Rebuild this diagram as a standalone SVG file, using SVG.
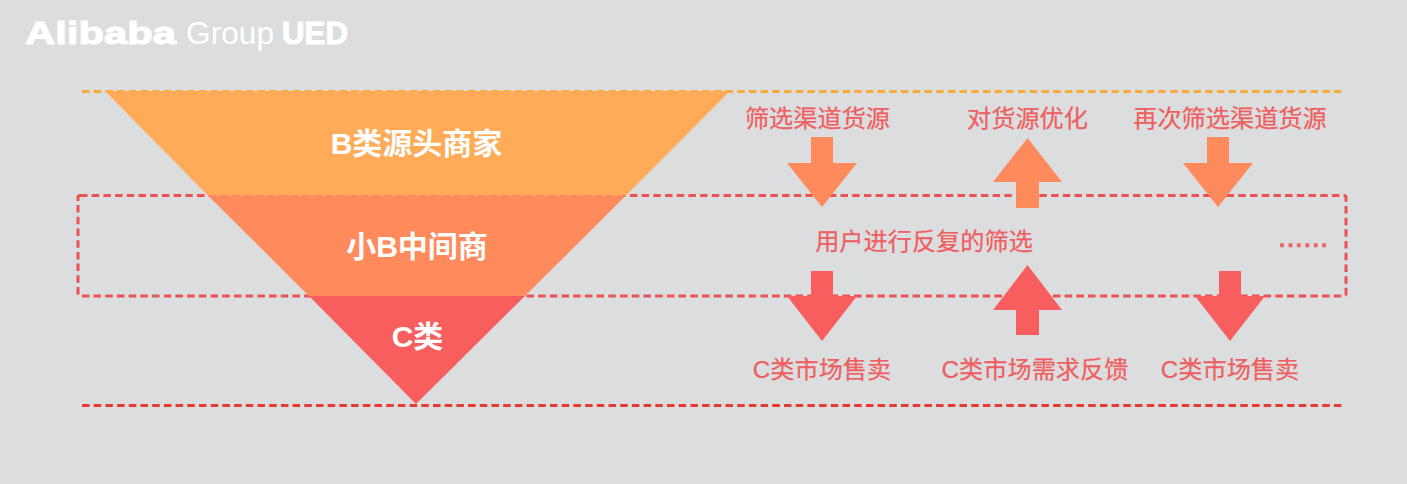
<svg xmlns="http://www.w3.org/2000/svg" width="1407" height="484" viewBox="0 0 1407 484">
<style>
.l{font-family:"Liberation Sans","Noto Sans CJK SC",sans-serif;font-size:24.200px;fill:#EE5F5F;stroke:#EE5F5F;stroke-width:.25;text-anchor:middle}
.n{font-family:"Liberation Sans","Noto Sans CJK SC",sans-serif;font-size:30px;font-weight:700;fill:#fff;text-anchor:middle}
.logo{font-family:"Liberation Sans",sans-serif;fill:#fff}
.h{stroke:#fff;stroke-width:1;font-weight:700;font-size:31px}
.d{fill:none;stroke-width:3;stroke-dasharray:7.500 4.200}
.o{fill:#FF8A5C}.r{fill:#F85E5E}
</style>
<rect width="1407" height="484" fill="#DCDDDF"/>
<g id="logo">
<text class="logo h" x="25" y="43.500" textLength="151" lengthAdjust="spacingAndGlyphs">Alibaba</text>
<text class="logo" x="186" y="43.500" font-size="32" textLength="88" lengthAdjust="spacingAndGlyphs">Group</text>
<text class="logo h" x="282" y="43.500" textLength="66" lengthAdjust="spacingAndGlyphs">UED</text>
</g>
<g id="guides">
<line class="d" x1="82" y1="91.500" x2="1343" y2="91.500" stroke="#F9AB3A"/>
<line class="d" x1="82" y1="405.500" x2="1343" y2="405.500" stroke="#E83A30"/>
<rect class="d" x="78" y="195.500" width="1268" height="100.500" rx="2" stroke="#EC5252"/>
</g>
<g id="funnel">
<g id="node-b"><polygon points="105,91 730,91 626,195.500 208,195.500" fill="#FFAB57"/><text class="n" x="416.500" y="153.500">B类源头商家</text></g>
<g id="node-mid"><polygon points="208,195.500 626,195.500 525,296 309,296" fill="#FF8A5C"/><text class="n" x="417" y="256.500">小B中间商</text></g>
<g id="node-c"><polygon points="309,296 525,296 416,404" fill="#F85E5E"/><text class="n" x="417.500" y="346.500">C类</text></g>
</g>
<g id="connectors">
<polygon class="o" points="811,137 833,137 833,163 857,163 822,207 787,163 811,163"/>
<polygon class="o" points="1027.500,138 1062,182 1039,182 1039,208 1016,208 1016,182 993,182"/>
<polygon class="o" points="1207,137 1229,137 1229,163 1253,163 1218,207 1183,163 1207,163"/>
<polygon class="r" points="811,271 833,271 833,296 857,296 822,341 787,296 811,296"/>
<polygon class="r" points="1027.500,265 1062,310 1039,310 1039,335 1016,335 1016,310 993,310"/>
<polygon class="r" points="1219,271 1241,271 1241,296 1265,296 1230,341 1195,296 1219,296"/>
</g>
<g id="labels">
<text class="l" x="817.500" y="127">筛选渠道货源</text>
<text class="l" x="1027.500" y="127">对货源优化</text>
<text class="l" x="1230" y="127">再次筛选渠道货源</text>
<text class="l" x="924" y="250">用户进行反复的筛选</text>
<text class="l" x="1304" y="247" font-weight="700" style="letter-spacing:1.700px">......</text>
<text class="l" x="822" y="378">C类市场售卖</text>
<text class="l" x="1035" y="378">C类市场需求反馈</text>
<text class="l" x="1230" y="378">C类市场售卖</text>
</g>
</svg>
